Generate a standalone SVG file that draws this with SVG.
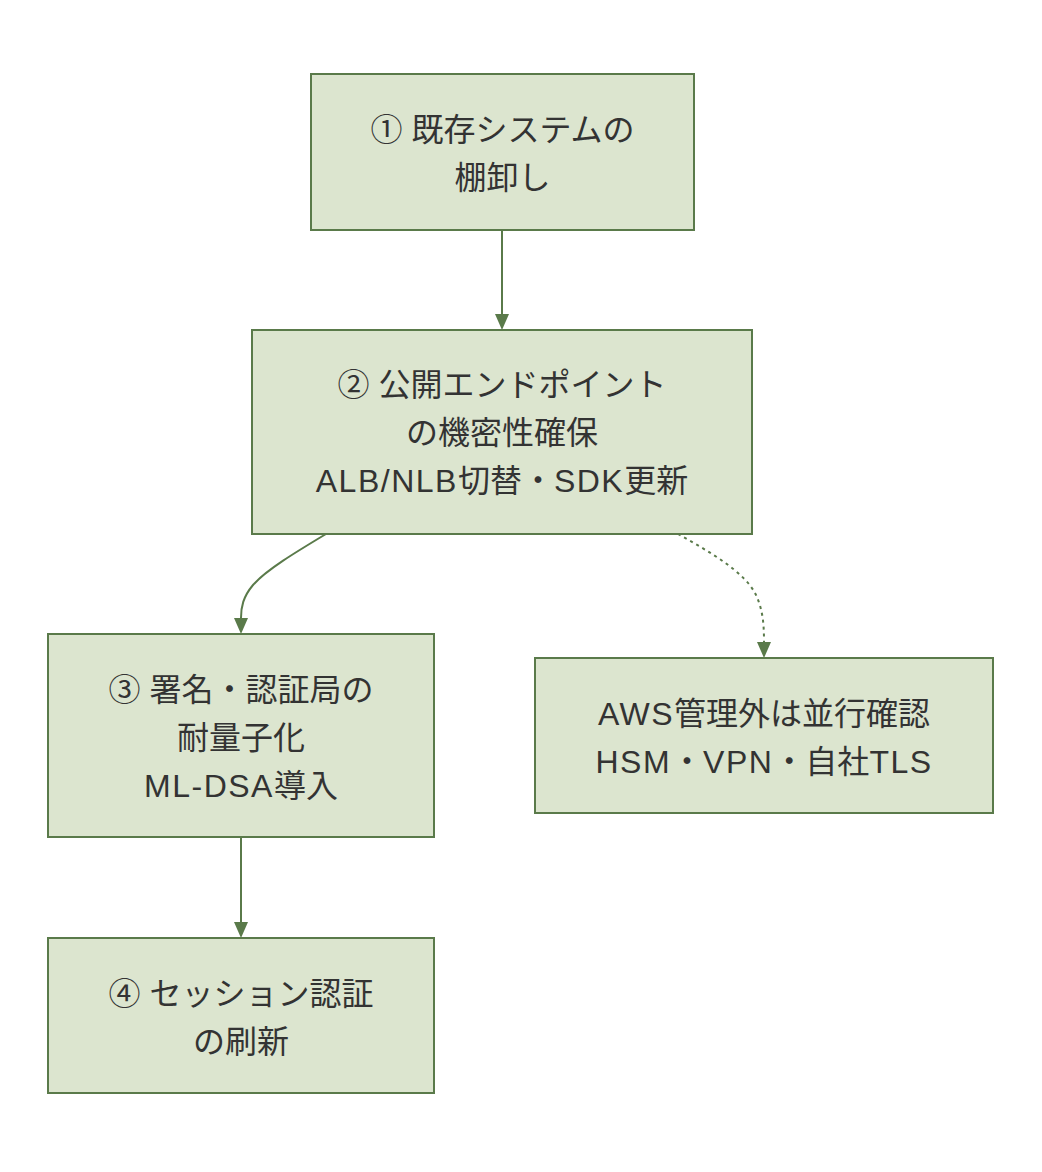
<svg xmlns="http://www.w3.org/2000/svg" width="1042" height="1172" viewBox="0 0 1042 1172">
<defs>
<style>
.box{fill:#dce5cf;stroke:#5a7a4a;stroke-width:2}
.lbl{font-family:"Liberation Sans","Noto Sans CJK JP",sans-serif;font-size:32px;fill:#333;text-anchor:middle}
.lat{letter-spacing:1.5px}
.edge{fill:none;stroke:#5a7a4a;stroke-width:2}
.dot{stroke-dasharray:3 4}
</style>
<marker id="arr" viewBox="0 0 16 14" refX="0" refY="7" markerWidth="16" markerHeight="14" markerUnits="userSpaceOnUse" orient="auto">
<path d="M0,0 L16,7 L0,14 z" fill="#5a7a4a"/>
</marker>
</defs>
<rect width="1042" height="1172" fill="#fff"/>
<g id="connectors">
<path class="edge" d="M502,230 L502,314" marker-end="url(#arr)"/>
<path class="edge" d="M326,534 C296,552 266,570 253,585 C243,597 241,607 241,618" marker-end="url(#arr)"/>
<path class="edge dot" d="M678,534 C710,552 745,572 756,595 C763,610 764,625 764,642" marker-end="url(#arr)"/>
<path class="edge" d="M241,837 L241,922" marker-end="url(#arr)"/>
</g>
<g id="n1">
<rect class="box" x="311" y="74" width="383" height="156"/>
<text class="lbl" x="502.5" y="141">① 既存システムの</text>
<text class="lbl" x="502.5" y="189">棚卸し</text>
</g>
<g id="n2">
<rect class="box" x="252" y="330" width="500" height="204"/>
<text class="lbl" x="502" y="396">② 公開エンドポイント</text>
<text class="lbl" x="502" y="444">の機密性確保</text>
<text class="lbl" x="502" y="492"><tspan class="lat">ALB/NLB</tspan>切替・<tspan class="lat">SDK</tspan>更新</text>
</g>
<g id="n3">
<rect class="box" x="48" y="634" width="386" height="203"/>
<text class="lbl" x="241" y="701">③ 署名・認証局の</text>
<text class="lbl" x="241" y="749">耐量子化</text>
<text class="lbl" x="241" y="797"><tspan class="lat">ML-DSA</tspan>導入</text>
</g>
<g id="n4">
<rect class="box" x="48" y="938" width="386" height="155"/>
<text class="lbl" x="241" y="1005">④ セッション認証</text>
<text class="lbl" x="241" y="1053">の刷新</text>
</g>
<g id="n5">
<rect class="box" x="535" y="658" width="458" height="155"/>
<text class="lbl" x="764" y="725"><tspan class="lat">AWS</tspan>管理外は並行確認</text>
<text class="lbl" x="764" y="773"><tspan class="lat">HSM</tspan>・<tspan class="lat">VPN</tspan>・自社<tspan class="lat">TLS</tspan></text>
</g>
</svg>
